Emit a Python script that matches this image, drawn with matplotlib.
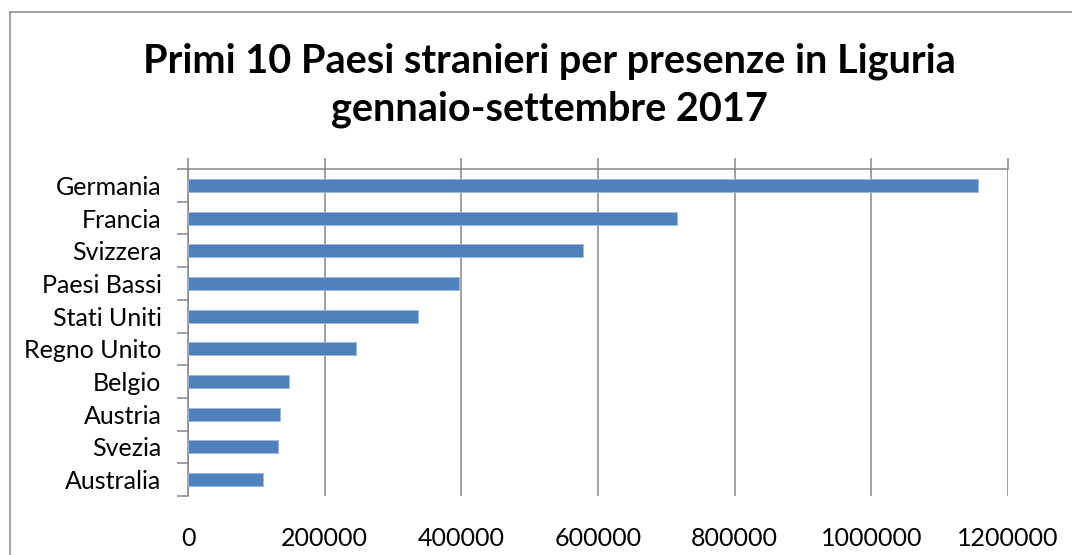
import matplotlib
matplotlib.use("Agg")
import matplotlib.pyplot as plt
from matplotlib.lines import Line2D
import numpy as np

countries = ["Germania", "Francia", "Svizzera", "Paesi Bassi", "Stati Uniti",
             "Regno Unito", "Belgio", "Austria", "Svezia", "Australia"]
presenze = [1156000, 715000, 578000, 397000, 336000,
            246000, 148000, 134000, 132000, 110000]
xticks = [0, 200000, 400000, 600000, 800000, 1000000, 1200000]
title_lines = ["Primi 10 Paesi stranieri per presenze in Liguria",
               "gennaio-settembre 2017"]

plt.rcParams['font.family'] = ['Lato', 'DejaVu Sans']

W, H = 1072, 555
fig = plt.figure(figsize=(W / 100, H / 100), dpi=100)
grey = "#868686"

# outer chart border (partially cropped)
fig.add_artist(Line2D([9.5 / W, 9.5 / W], [0, 1 - 12 / H], transform=fig.transFigure,
                      color=grey, lw=1.1))
fig.add_artist(Line2D([9.5 / W, 1], [1 - 12 / H, 1 - 12 / H], transform=fig.transFigure,
                      color=grey, lw=1.1))

ax = fig.add_axes([188 / W, 59 / H, 820 / W, 327 / H])
y = np.arange(len(countries))
ax.barh(y, presenze, height=0.4, color="#4F81BD", edgecolor="#9DB9DE", linewidth=0.6, zorder=3)
ax.set_xlim(0, 1200000)
ax.set_ylim(len(countries) - 0.5, -0.5)

ax.set_xticks(xticks)
ax.set_xticklabels([str(v) for v in xticks])
ax.xaxis.grid(True, color=grey, lw=1.1, zorder=1)
ax.tick_params(axis='x', which='major', top=True, bottom=False, labeltop=False,
               labelbottom=True, direction='out', length=8, width=1.1, color=grey,
               pad=14, labelsize=18)

ax.set_yticks(y)
ax.set_yticklabels(countries)
ax.set_yticks(np.arange(-0.5, len(countries)), minor=True)
ax.tick_params(axis='y', which='major', length=0, pad=19, labelsize=18)
ax.tick_params(axis='y', which='minor', length=8, width=1.1, color=grey, direction='out')

for s in ['right', 'bottom']:
    ax.spines[s].set_visible(False)
for s in ['left', 'top']:
    ax.spines[s].set_color(grey)
    ax.spines[s].set_linewidth(1.1)

fig.text(549 / W, 1 - 72 / H, title_lines[0], ha='center', va='baseline',
         fontsize=28.5, fontweight='bold')
fig.text(549 / W, 1 - 121 / H, title_lines[1], ha='center', va='baseline',
         fontsize=28.5, fontweight='bold')

fig.savefig("out.png", dpi=100)
